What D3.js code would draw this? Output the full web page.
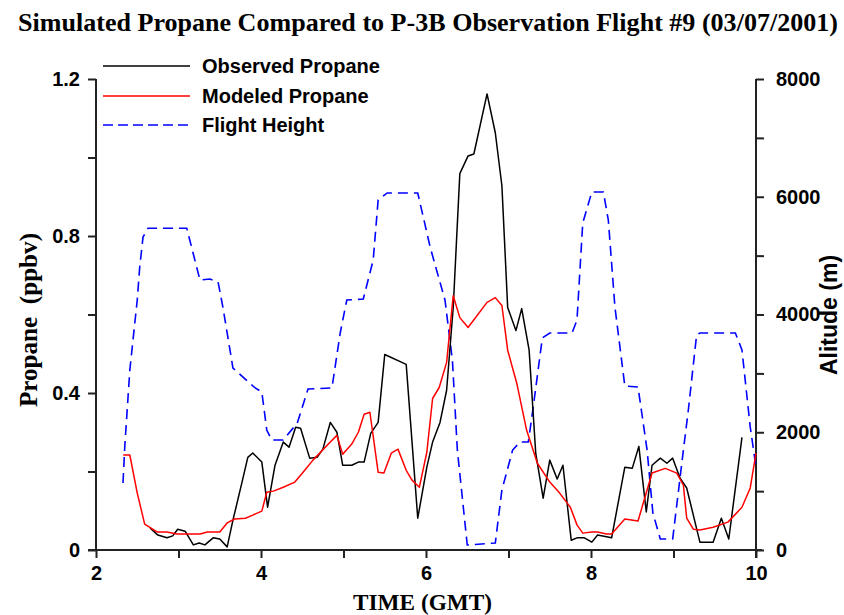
<!DOCTYPE html>
<html><head><meta charset="utf-8">
<script src="https://cdn.jsdelivr.net/npm/d3@7"></script>
<style>body{margin:0;background:#fff}svg{display:block}</style>
</head><body>
<svg id="c" width="844" height="615"></svg>
<script>
const titleText = "Simulated Propane Compared to P-3B Observation Flight #9 (03/07/2001)";
const xTicks = [2, 3, 4, 5, 6, 7, 8, 9, 10];
const xTickLabels = ["2", "", "4", "", "6", "", "8", "", "10"];
const yTicks = [0, 0.2, 0.4, 0.6, 0.8, 1.0, 1.2];
const yTickLabels = ["0", "", "0.4", "", "0.8", "", "1.2"];
const altTicks = [0, 1000, 2000, 3000, 4000, 5000, 6000, 7000, 8000];
const altTickLabels = ["0", "", "2000", "", "4000", "", "6000", "", "8000"];
const legendLabels = ["Observed Propane", "Modeled Propane", "Flight Height"];

const obsTime = [2.655,2.75,2.86,2.93,2.99,3.08,3.18,3.25,3.32,3.42,3.50,3.59,3.66,3.77,3.84,3.90,4.01,4.08,4.17,4.27,4.34,4.42,4.48,4.59,4.68,4.75,4.84,4.92,4.99,5.10,5.18,5.25,5.33,5.42,5.50,5.76,5.90,6.01,6.08,6.17,6.25,6.33,6.41,6.51,6.58,6.74,6.84,6.92,6.99,7.09,7.16,7.25,7.33,7.42,7.50,7.59,7.66,7.76,7.83,7.92,8.01,8.08,8.25,8.41,8.50,8.58,8.67,8.74,8.84,8.92,8.99,9.08,9.16,9.32,9.48,9.58,9.67,9.83];
const obsProp = [0.056,0.038,0.031,0.036,0.053,0.048,0.013,0.018,0.013,0.031,0.028,0.008,0.076,0.173,0.236,0.247,0.224,0.109,0.216,0.275,0.262,0.313,0.310,0.234,0.236,0.257,0.325,0.300,0.216,0.216,0.224,0.224,0.297,0.325,0.498,0.473,0.081,0.211,0.275,0.325,0.407,0.618,0.959,1.004,1.009,1.162,1.063,0.928,0.618,0.559,0.615,0.509,0.247,0.132,0.229,0.181,0.216,0.025,0.031,0.031,0.020,0.038,0.031,0.211,0.208,0.264,0.097,0.216,0.234,0.221,0.234,0.183,0.158,0.020,0.020,0.081,0.028,0.287];

const modTime = [2.33,2.41,2.50,2.59,2.74,2.86,2.98,3.26,3.35,3.50,3.59,3.68,3.81,3.90,4.01,4.07,4.15,4.27,4.41,4.51,4.63,4.84,4.92,4.99,5.10,5.18,5.25,5.32,5.42,5.49,5.58,5.66,5.76,5.83,5.92,6.01,6.08,6.16,6.25,6.33,6.41,6.51,6.74,6.84,6.92,6.99,7.10,7.22,7.35,7.50,7.62,7.75,7.83,7.90,8.01,8.08,8.19,8.25,8.41,8.57,8.74,8.90,9.04,9.12,9.16,9.24,9.32,9.48,9.66,9.83,9.93,10.0];
const modProp = [0.242,0.242,0.145,0.066,0.046,0.046,0.041,0.041,0.046,0.046,0.069,0.079,0.081,0.089,0.099,0.147,0.150,0.160,0.173,0.198,0.229,0.275,0.292,0.244,0.270,0.300,0.346,0.351,0.198,0.196,0.247,0.257,0.203,0.178,0.160,0.249,0.386,0.414,0.478,0.648,0.592,0.567,0.631,0.643,0.623,0.509,0.425,0.305,0.221,0.173,0.145,0.109,0.064,0.043,0.046,0.046,0.041,0.041,0.079,0.074,0.196,0.208,0.196,0.165,0.081,0.053,0.051,0.058,0.071,0.109,0.158,0.247];

const fltTime = [2.327,2.35,2.41,2.50,2.53,2.57,2.63,3.10,3.26,3.38,3.48,3.54,3.66,3.93,4.01,4.07,4.13,4.27,4.44,4.57,4.86,4.96,5.04,5.24,5.36,5.42,5.53,5.90,6.05,6.23,6.32,6.38,6.50,6.84,6.92,7.05,7.14,7.24,7.30,7.41,7.50,7.77,7.83,7.90,8.01,8.15,8.21,8.29,8.41,8.57,8.68,8.75,8.84,8.99,9.12,9.18,9.28,9.32,9.75,9.83,9.93,10.0];
const fltAlt = [1138,1783,3057,4246,4807,5316,5466,5466,4586,4603,4552,4110,3091,2752,2684,2038,1868,1868,2157,2735,2752,3686,4246,4263,4926,5945,6064,6064,5146,4246,3227,1698,85,119,1019,1698,1834,1834,2429,3601,3686,3686,3906,5554,6081,6081,5605,4127,2786,2769,1698,628,187,187,1698,2378,3652,3686,3686,3397,2089,1410];

const svg = d3.select("#c");
const L = 96, R = 756, T = 79, B = 550;
const x = d3.scaleLinear().domain([2, 10]).range([L, R]);
const y = d3.scaleLinear().domain([0, 1.2]).range([B, T]);
const y2 = d3.scaleLinear().domain([0, 8000]).range([B, T]);
const axisColor = "#222";
const sans = "'Liberation Sans', Arial, sans-serif";
const serif = "'Liberation Serif', 'Times New Roman', serif";

// title
svg.append("text").attr("x", 18).attr("y", 31)
  .attr("font-family", serif).attr("font-weight", "bold").attr("font-size", 26)
  .attr("textLength", 820).attr("lengthAdjust", "spacingAndGlyphs")
  .text(titleText);

// axes
const gx = svg.append("g").attr("transform", `translate(0,${B})`)
  .call(d3.axisBottom(x).tickValues(xTicks).tickSize(8).tickPadding(8)
    .tickFormat((d, i) => xTickLabels[i]));
const gy = svg.append("g").attr("transform", `translate(${L},0)`)
  .call(d3.axisLeft(y).tickValues(yTicks).tickSize(8).tickPadding(8)
    .tickFormat((d, i) => yTickLabels[i]));
const gy2 = svg.append("g").attr("transform", `translate(${R},0)`)
  .call(d3.axisRight(y2).tickValues(altTicks).tickSize(8).tickPadding(12)
    .tickFormat((d, i) => altTickLabels[i]));
[gx, gy, gy2].forEach(g => {
  g.select(".domain").attr("stroke", axisColor).attr("stroke-width", 2);
  g.selectAll(".tick line").attr("stroke", axisColor).attr("stroke-width", 2);
  g.selectAll(".tick text").attr("font-family", sans).attr("font-weight", "bold")
    .attr("font-size", 20).attr("fill", "#000");
});
gx.select(".domain").attr("d", `M${L - 8},0H${R + 6}`);
gy.select(".domain").attr("d", `M0,${T}V${B}`);
gy2.select(".domain").attr("d", `M0,${T}V${B + 8}`);

// axis titles
svg.append("text").attr("x", 353).attr("y", 610)
  .attr("font-family", serif).attr("font-weight", "bold").attr("font-size", 24)
  .attr("textLength", 139).attr("lengthAdjust", "spacingAndGlyphs")
  .text("TIME (GMT)");
svg.append("text").attr("transform", "translate(37,407) rotate(-90)")
  .attr("font-family", serif).attr("font-weight", "bold")
  .attr("font-size", 25).attr("xml:space", "preserve")
  .attr("textLength", 174).attr("lengthAdjust", "spacingAndGlyphs")
  .text("Propane  (ppbv)");
svg.append("text").attr("transform", "translate(837,315) rotate(-90)")
  .attr("text-anchor", "middle").attr("font-family", sans).attr("font-weight", "bold")
  .attr("font-size", 23).text("Alitude (m)");

// lines
const lineObs = d3.line().x((d, i) => x(obsTime[i])).y(d => y(d));
const lineMod = d3.line().x((d, i) => x(modTime[i])).y(d => y(d));
const lineFlt = d3.line().x((d, i) => x(fltTime[i])).y(d => y2(d));

svg.append("path").attr("d", lineFlt(fltAlt)).attr("fill", "none")
  .attr("stroke", "#0000ff").attr("stroke-width", 1.6).attr("stroke-dasharray", "10,6");
svg.append("path").attr("d", lineObs(obsProp)).attr("fill", "none")
  .attr("stroke", "#000").attr("stroke-width", 1.5).attr("stroke-linejoin", "round");
svg.append("path").attr("d", lineMod(modProp)).attr("fill", "none")
  .attr("stroke", "#ff0000").attr("stroke-width", 1.5).attr("stroke-linejoin", "round");

// legend
const legStyles = [
  {stroke: "#000", dash: null},
  {stroke: "#ff0000", dash: null},
  {stroke: "#0000ff", dash: "10,5"}
];
const legY = [66, 96, 125];
legendLabels.forEach((lab, i) => {
  svg.append("line").attr("x1", 103).attr("x2", 190).attr("y1", legY[i]).attr("y2", legY[i])
    .attr("stroke", legStyles[i].stroke).attr("stroke-width", 1.6)
    .attr("stroke-dasharray", legStyles[i].dash);
  svg.append("text").attr("x", 202).attr("y", legY[i] + 7)
    .attr("font-family", sans).attr("font-weight", "bold").attr("font-size", 20)
    .text(lab);
});
</script>
</body></html>
